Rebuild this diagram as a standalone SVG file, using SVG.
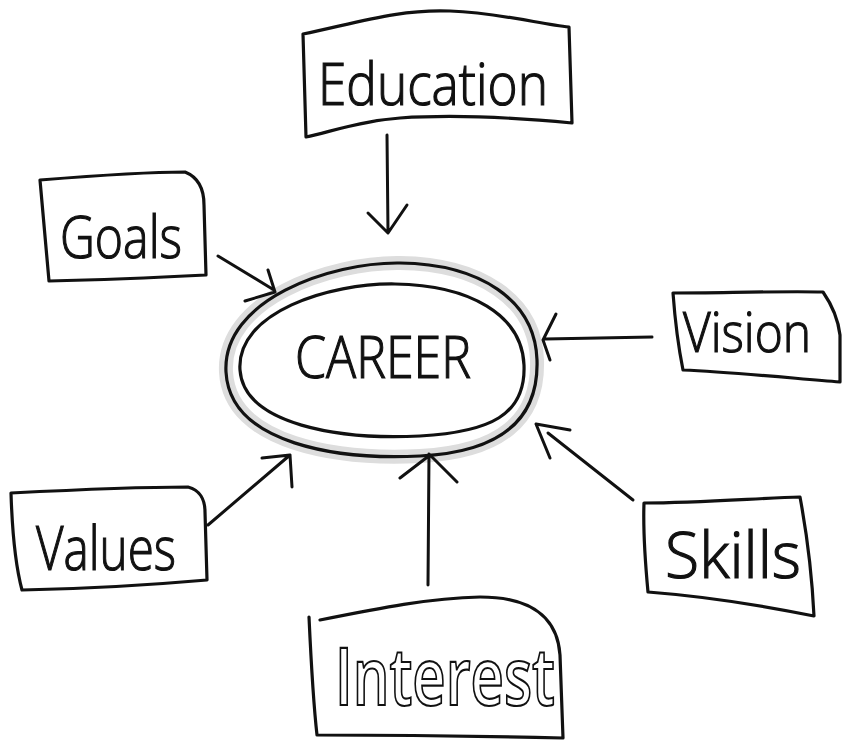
<svg xmlns="http://www.w3.org/2000/svg" width="843" height="741" viewBox="0 0 843 741">
<style>
.box{fill:none;stroke:#111;stroke-width:3.2;stroke-linecap:round;stroke-linejoin:round}
.con{fill:none;stroke:#111;stroke-width:3;stroke-linecap:round;stroke-linejoin:round}
.lbl{font-family:"Open Sans","DejaVu Sans",sans-serif;font-weight:300;fill:#111;stroke:#111;stroke-width:1.2}
</style>
<rect width="843" height="741" fill="#fff"/>
<g id="education">
<path class="box" d="M303,34 C360,22 400,9 450,11 C500,13 540,24 569,27 L572,123 C520,118 460,114 400,118 C360,121 330,132 306,137 Z"/>
<text class="lbl" x="318" y="105" font-size="58" textLength="230" lengthAdjust="spacingAndGlyphs">Education</text>
</g>
<g id="goals">
<path class="box" d="M40,180 C90,176 140,172 185,172 C200,178 204,192 204,205 L206,275 C150,278 100,280 49,281 Z"/>
<text class="lbl" x="60" y="258" font-size="58" textLength="122" lengthAdjust="spacingAndGlyphs">Goals</text>
</g>
<g id="career">
<path d="M226,372 C222,300 330,262 400,263 C480,264 535,300 537,360 C539,420 500,452 420,456 C340,460 230,445 226,372 Z" fill="none" stroke="#ddd" stroke-width="14"/>
<path class="box" d="M226,372 C222,300 330,262 400,263 C480,264 535,300 537,360 C539,420 500,452 420,456 C340,460 230,445 226,372 Z"/>
<path class="box" d="M240,370 C236,312 330,283 395,284 C470,285 522,315 524,365 C526,415 490,432 420,436 C340,440 244,425 240,370 Z"/>
<text class="lbl" x="295" y="378" font-size="58" textLength="176" lengthAdjust="spacingAndGlyphs">CAREER</text>
</g>
<g id="vision">
<path class="box" d="M673,293 C720,293 780,291 823,292 C832,305 838,318 840,335 L840,382 C790,378 730,372 683,370 C678,345 675,320 673,293 Z"/>
<text class="lbl" x="683" y="352" font-size="56" textLength="128" lengthAdjust="spacingAndGlyphs">Vision</text>
</g>
<g id="values">
<path class="box" d="M11,493 C70,490 130,487 188,487 C200,490 205,500 205,512 L207,580 C150,585 80,589 22,590 C14,560 12,525 11,493 Z"/>
<text class="lbl" x="36" y="570" font-size="60" textLength="140" lengthAdjust="spacingAndGlyphs">Values</text>
</g>
<g id="skills">
<path class="box" d="M644,503 C700,503 760,498 800,497 C808,540 812,575 814,616 C760,605 700,596 648,592 C645,560 643,530 644,503 Z"/>
<text class="lbl" x="665" y="578" font-size="64" textLength="136" lengthAdjust="spacingAndGlyphs">Skills</text>
</g>
<g id="interest">
<path class="box" d="M320,620 C380,608 430,598 480,597 C540,597 558,625 560,655 L563,738 C480,736 400,735 317,735 C313,700 311,660 309,617"/>
<text x="335" y="705" font-family="'Open Sans','DejaVu Sans',sans-serif" font-weight="600" font-size="80" fill="#fff" stroke="#111" stroke-width="2.2" textLength="220" lengthAdjust="spacingAndGlyphs">Interest</text>
</g>
<g id="connectors">
<path class="con" d="M387,135 L388,232 M368,213 L388,233 L407,205"/>
<path class="con" d="M218,256 L274,290 M268,270 L275,292 L245,301"/>
<path class="con" d="M652,337 L545,339 M556,314 L543,340 L550,360"/>
<path class="con" d="M208,525 L290,455 M262,458 L290,455 L292,487"/>
<path class="con" d="M633,500 L548,433 M570,430 L536,424 L550,458"/>
<path class="con" d="M428,585 L429,454 M400,478 L430,455 L457,482"/>
</g>
</svg>
